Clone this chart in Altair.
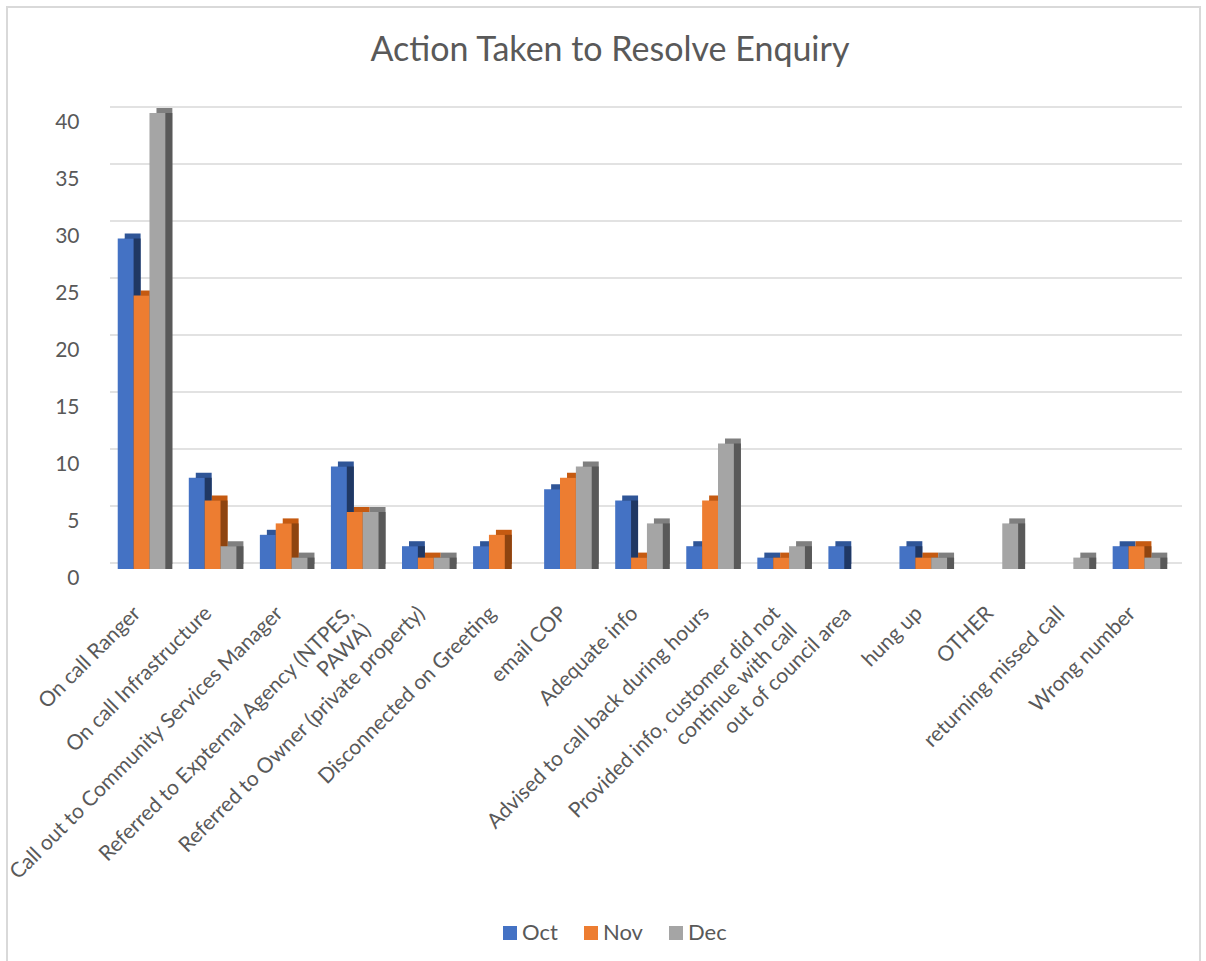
import altair as alt
import pandas as pd

categories = [
    "On call Ranger",
    "On call Infrastructure",
    "Call out to Community Services Manager",
    "Referred to Expternal Agency (NTPES,\nPAWA)",
    "Referred to Owner (private property)",
    "Disconnected on Greeting",
    "email COP",
    "Adequate info",
    "Advised to call back during hours",
    "Provided info, customer did not\ncontinue with call",
    "out of council area",
    "hung up",
    "OTHER",
    "returning missed call",
    "Wrong number",
]
oct_vals = [29, 8, 3, 9, 2, 2, 7, 6, 2, 1, 2, 2, None, None, 2]
nov_vals = [24, 6, 4, 5, 1, 3, 8, 1, 6, 1, 0, 1, None, None, 2]
dec_vals = [40, 2, 1, 5, 1, None, 9, 4, 11, 2, 0, 1, 4, 1, 1]
series = ["Oct", "Nov", "Dec"]
y_ticks = [0, 5, 10, 15, 20, 25, 30, 35, 40]

front_colors = ["#4472C4", "#ED7D31", "#A5A5A5"]
top_colors = ["#2F5597", "#C55A11", "#7F7F7F"]
side_colors = ["#203864", "#8E4410", "#595959"]

rows = []
for name, vals in zip(series, [oct_vals, nov_vals, dec_vals]):
    for c, v in zip(categories, vals):
        if v is not None:
            rows.append({"cat": c, "series": name, "value": v})
df = pd.DataFrame(rows)
grid_df = pd.DataFrame({"value": y_ticks})

FONT = "Lato"
GREY = "#595959"
W, H = 1066, 456
BAND = W / len(categories) * 0.67
DEPTH_X, DEPTH_Y = 7, 5

x_scale = alt.Scale(domain=categories, paddingInner=0.33, paddingOuter=0.165)
y_scale = alt.Scale(domain=[0, 40], nice=False)

x_axis = alt.Axis(
    title=None,
    labelAngle=-45,
    labelAlign="right",
    labelBaseline="middle",
    labelExpr="split(datum.label, '\\n')",
    labelFontSize=21,
    labelFont=FONT,
    labelColor=GREY,
    labelPadding=41,
    labelOffset=-4,
    labelLimit=0,
    labelLineHeight=24,
    ticks=False,
    domain=False,
    grid=False,
)
y_axis = alt.Axis(
    title=None,
    values=y_ticks,
    labelFontSize=21,
    labelFont=FONT,
    labelColor=GREY,
    labelPadding=27,
    labelOffset=9,
    ticks=False,
    domain=False,
    grid=False,
)


def x_enc():
    return alt.X("cat:N", sort=categories, scale=x_scale, axis=x_axis)


def y_enc():
    return alt.Y("value:Q", scale=y_scale, axis=y_axis)


off_front = alt.XOffset("series:N", sort=series, scale=alt.Scale(domain=series))
off_back = alt.XOffset(
    "series:N", sort=series, scale=alt.Scale(domain=series, range=[DEPTH_X, DEPTH_X + BAND])
)

grid = alt.Chart(grid_df).mark_rule(color="#D9D9D9", strokeWidth=1.5, yOffset=-6).encode(
    y=y_enc(),
    x=alt.value(4),
    x2=alt.value(W + 10),
)

top_face = alt.Chart(df).mark_bar(yOffset=-DEPTH_Y).encode(
    x=x_enc(),
    y=y_enc(),
    xOffset=off_back,
    color=alt.Color("series:N", sort=series, scale=alt.Scale(domain=series, range=top_colors), legend=None),
)
side_face = alt.Chart(df).mark_bar().encode(
    x=x_enc(),
    y=y_enc(),
    xOffset=off_back,
    color=alt.Color("series:N", sort=series, scale=alt.Scale(domain=series, range=side_colors), legend=None),
)
front = alt.Chart(df).mark_bar().encode(
    x=x_enc(),
    y=y_enc(),
    xOffset=off_front,
    color=alt.Color(
        "series:N",
        sort=series,
        scale=alt.Scale(domain=series, range=front_colors),
        legend=alt.Legend(
            title=None,
            orient="none",
            legendX=393,
            legendY=809,
            direction="horizontal",
            symbolType="square",
            symbolSize=196,
            symbolStrokeWidth=0,
            labelFontSize=22,
            labelFont=FONT,
            labelColor=GREY,
            labelOffset=1,
            columnPadding=22,
        ),
    ),
)

frame = alt.Chart(grid_df).mark_rect(fill="transparent", stroke="#D9D9D9", strokeWidth=1.5).encode(
    x=alt.value(-99), x2=alt.value(W + 28), y=alt.value(-106), y2=alt.value(H + 420)
)

chart = (
    alt.layer(grid, top_face, side_face, front, frame)
    .resolve_scale(color="independent", xOffset="independent")
    .properties(
        width=W,
        height=H,
        view=alt.ViewBackground(stroke="transparent", strokeWidth=0),
        autosize=alt.AutoSizeParams(type="none"),
        padding={"left": 106, "top": 113, "right": 34, "bottom": 392},
        title=alt.TitleParams(
            "Action Taken to Resolve Enquiry",
            font=FONT,
            fontSize=34,
            fontWeight="normal",
            color=GREY,
            anchor="middle",
            frame="group",
            dx=-29,
            offset=-62,
        ),
    )
    .configure_view(stroke="transparent", strokeWidth=0, strokeOpacity=0)
    .configure(background="white")
)

chart.save("out.html", embed_options={"renderer": "svg", "actions": False})
